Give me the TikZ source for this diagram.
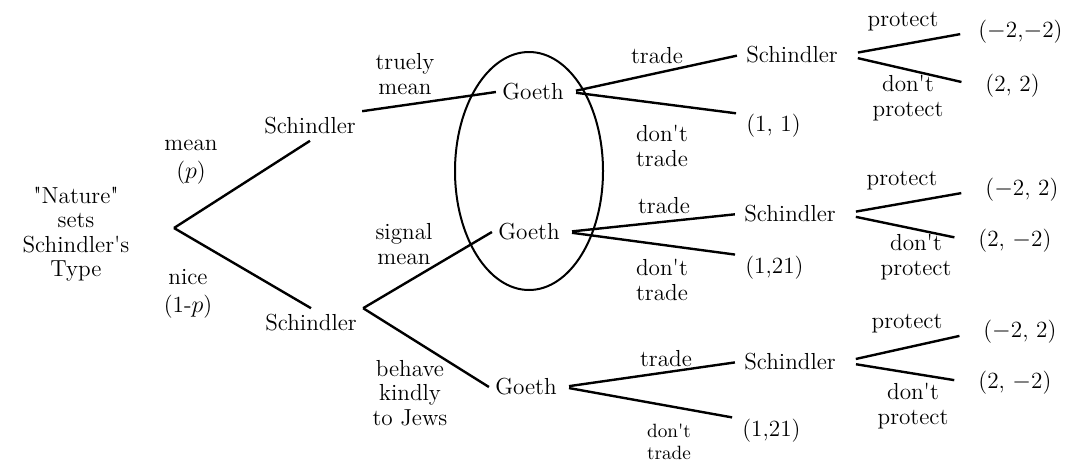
\documentclass[tikz,border=0pt]{standalone}
\usepackage{fontspec}
\setmainfont{Latin Modern Roman}[Ligatures=TeXOff]
\usepackage{tikz}
\usetikzlibrary{positioning}

\begin{document}
\begin{tikzpicture}[x=0.5pt, y=-0.5pt,
    every node/.style={font=\fontsize{11.6}{12.2}\selectfont, inner sep=3pt},
    tree/.style={line width=1.2pt},
    lbl/.style={align=center},
    payoff/.style={anchor=west}]
    \useasboundingbox (0, 0) rectangle (1066, 462);

    \node[lbl] (naturelbl) at (76, 234) {"Nature"\\sets\\Schindler's\\Type};
    \coordinate (nat) at (174, 228);

    \node (s1) at (310, 126) {Schindler};
    \node (s2) at (311, 323) {Schindler};
    \node (g1) at (533, 92) {Goeth};
    \node (g2) at (529, 232) {Goeth};
    \node (g3) at (526, 387) {Goeth};
    \node (s3) at (792, 55) {Schindler};
    \node (s4) at (790, 214) {Schindler};
    \node (s5) at (790, 362) {Schindler};

    \node[payoff] (o1) at (740, 126) {(1, 1)};
    \node[payoff] (o2) at (739, 268) {(1,21)};
    \node[payoff] (o3) at (736, 431) {(1,21)};
    \node[payoff] (a1) at (972, 32) {($-$2,$-$2)};
    \node[payoff] (b1) at (979, 86) {(2, 2)};
    \node[payoff] (a2) at (979, 190) {($-$2, 2)};
    \node[payoff] (b2) at (972, 241) {(2, $-$2)};
    \node[payoff] (a3) at (977, 332) {($-$2, 2)};
    \node[payoff] (b3) at (972, 383) {(2, $-$2)};

    \node[lbl] (lmean) at (191, 162) {mean\\[2pt]($p$)};
    \node[lbl] (lnice) at (188, 294) {nice\\[2pt](1-$p$)};
    \node[lbl] (ltruly) at (405, 74) {truely\\mean};
    \node[lbl] (lsignal) at (404, 244) {signal\\mean};
    \node[lbl] (lbehave) at (410, 393) {behave\\kindly\\to Jews};
    \node (lt1) at (657, 56) {trade};
    \node[lbl] (ld1) at (662, 146) {don't\\trade};
    \node (lt2) at (664, 206) {trade};
    \node[lbl] (ld2) at (662, 280) {don't\\trade};
    \node (lt3) at (666, 359) {trade};
    \node[lbl, inner sep=1pt, font=\fontsize{9.6}{11}\selectfont] (ld3) at (669, 442) {don't\\trade};
    \node (lp1) at (903, 22) {protect};
    \node[lbl] (lq1) at (908, 98) {don't\\protect};
    \node (lp2) at (902, 181) {protect};
    \node[lbl] (lq2) at (916, 257) {don't\\protect};
    \node (lp3) at (907, 324) {protect};
    \node[lbl] (lq3) at (913, 406) {don't\\protect};

    \draw[line width=1pt] (529, 171) ellipse [x radius=37pt, y radius=59.5pt];

    \draw[tree] (nat) -- (s1.south);
    \draw[tree] (nat) -- (s2.north);
    \draw[tree] (s1.north east) -- (g1.west);
    \draw[tree] (s2.north east) -- (g2.west);
    \draw[tree] (s2.north east) -- (g3.west);

    \draw[tree, shorten <=3pt, shorten >=1.5pt] (g1.east) -- (s3.west);
    \draw[tree, shorten <=3pt, shorten >=2pt] (g1.east) -- (o1.160);
    \draw[tree, shorten <=3pt, shorten >=1.5pt] (g2.east) -- (s4.west);
    \draw[tree, shorten <=3pt, shorten >=2pt] (g2.east) -- (o2.160);
    \draw[tree, shorten <=3pt, shorten >=1.5pt] (g3.east) -- (s5.west);
    \draw[tree, shorten <=3pt, shorten >=2pt] (g3.east) -- (o3.160);

    \draw[tree, shorten <=7pt, shorten >=6pt] (s3.east) -- (a1.west);
    \draw[tree, shorten <=7pt, shorten >=9pt] (s3.east) -- (b1.west);
    \draw[tree, shorten <=7pt, shorten >=9pt] (s4.east) -- (a2.west);
    \draw[tree, shorten <=7pt, shorten >=9pt] (s4.east) -- (b2.west);
    \draw[tree, shorten <=7pt, shorten >=9pt] (s5.east) -- (a3.west);
    \draw[tree, shorten <=7pt, shorten >=9pt] (s5.east) -- (b3.west);
\end{tikzpicture}
\end{document}
